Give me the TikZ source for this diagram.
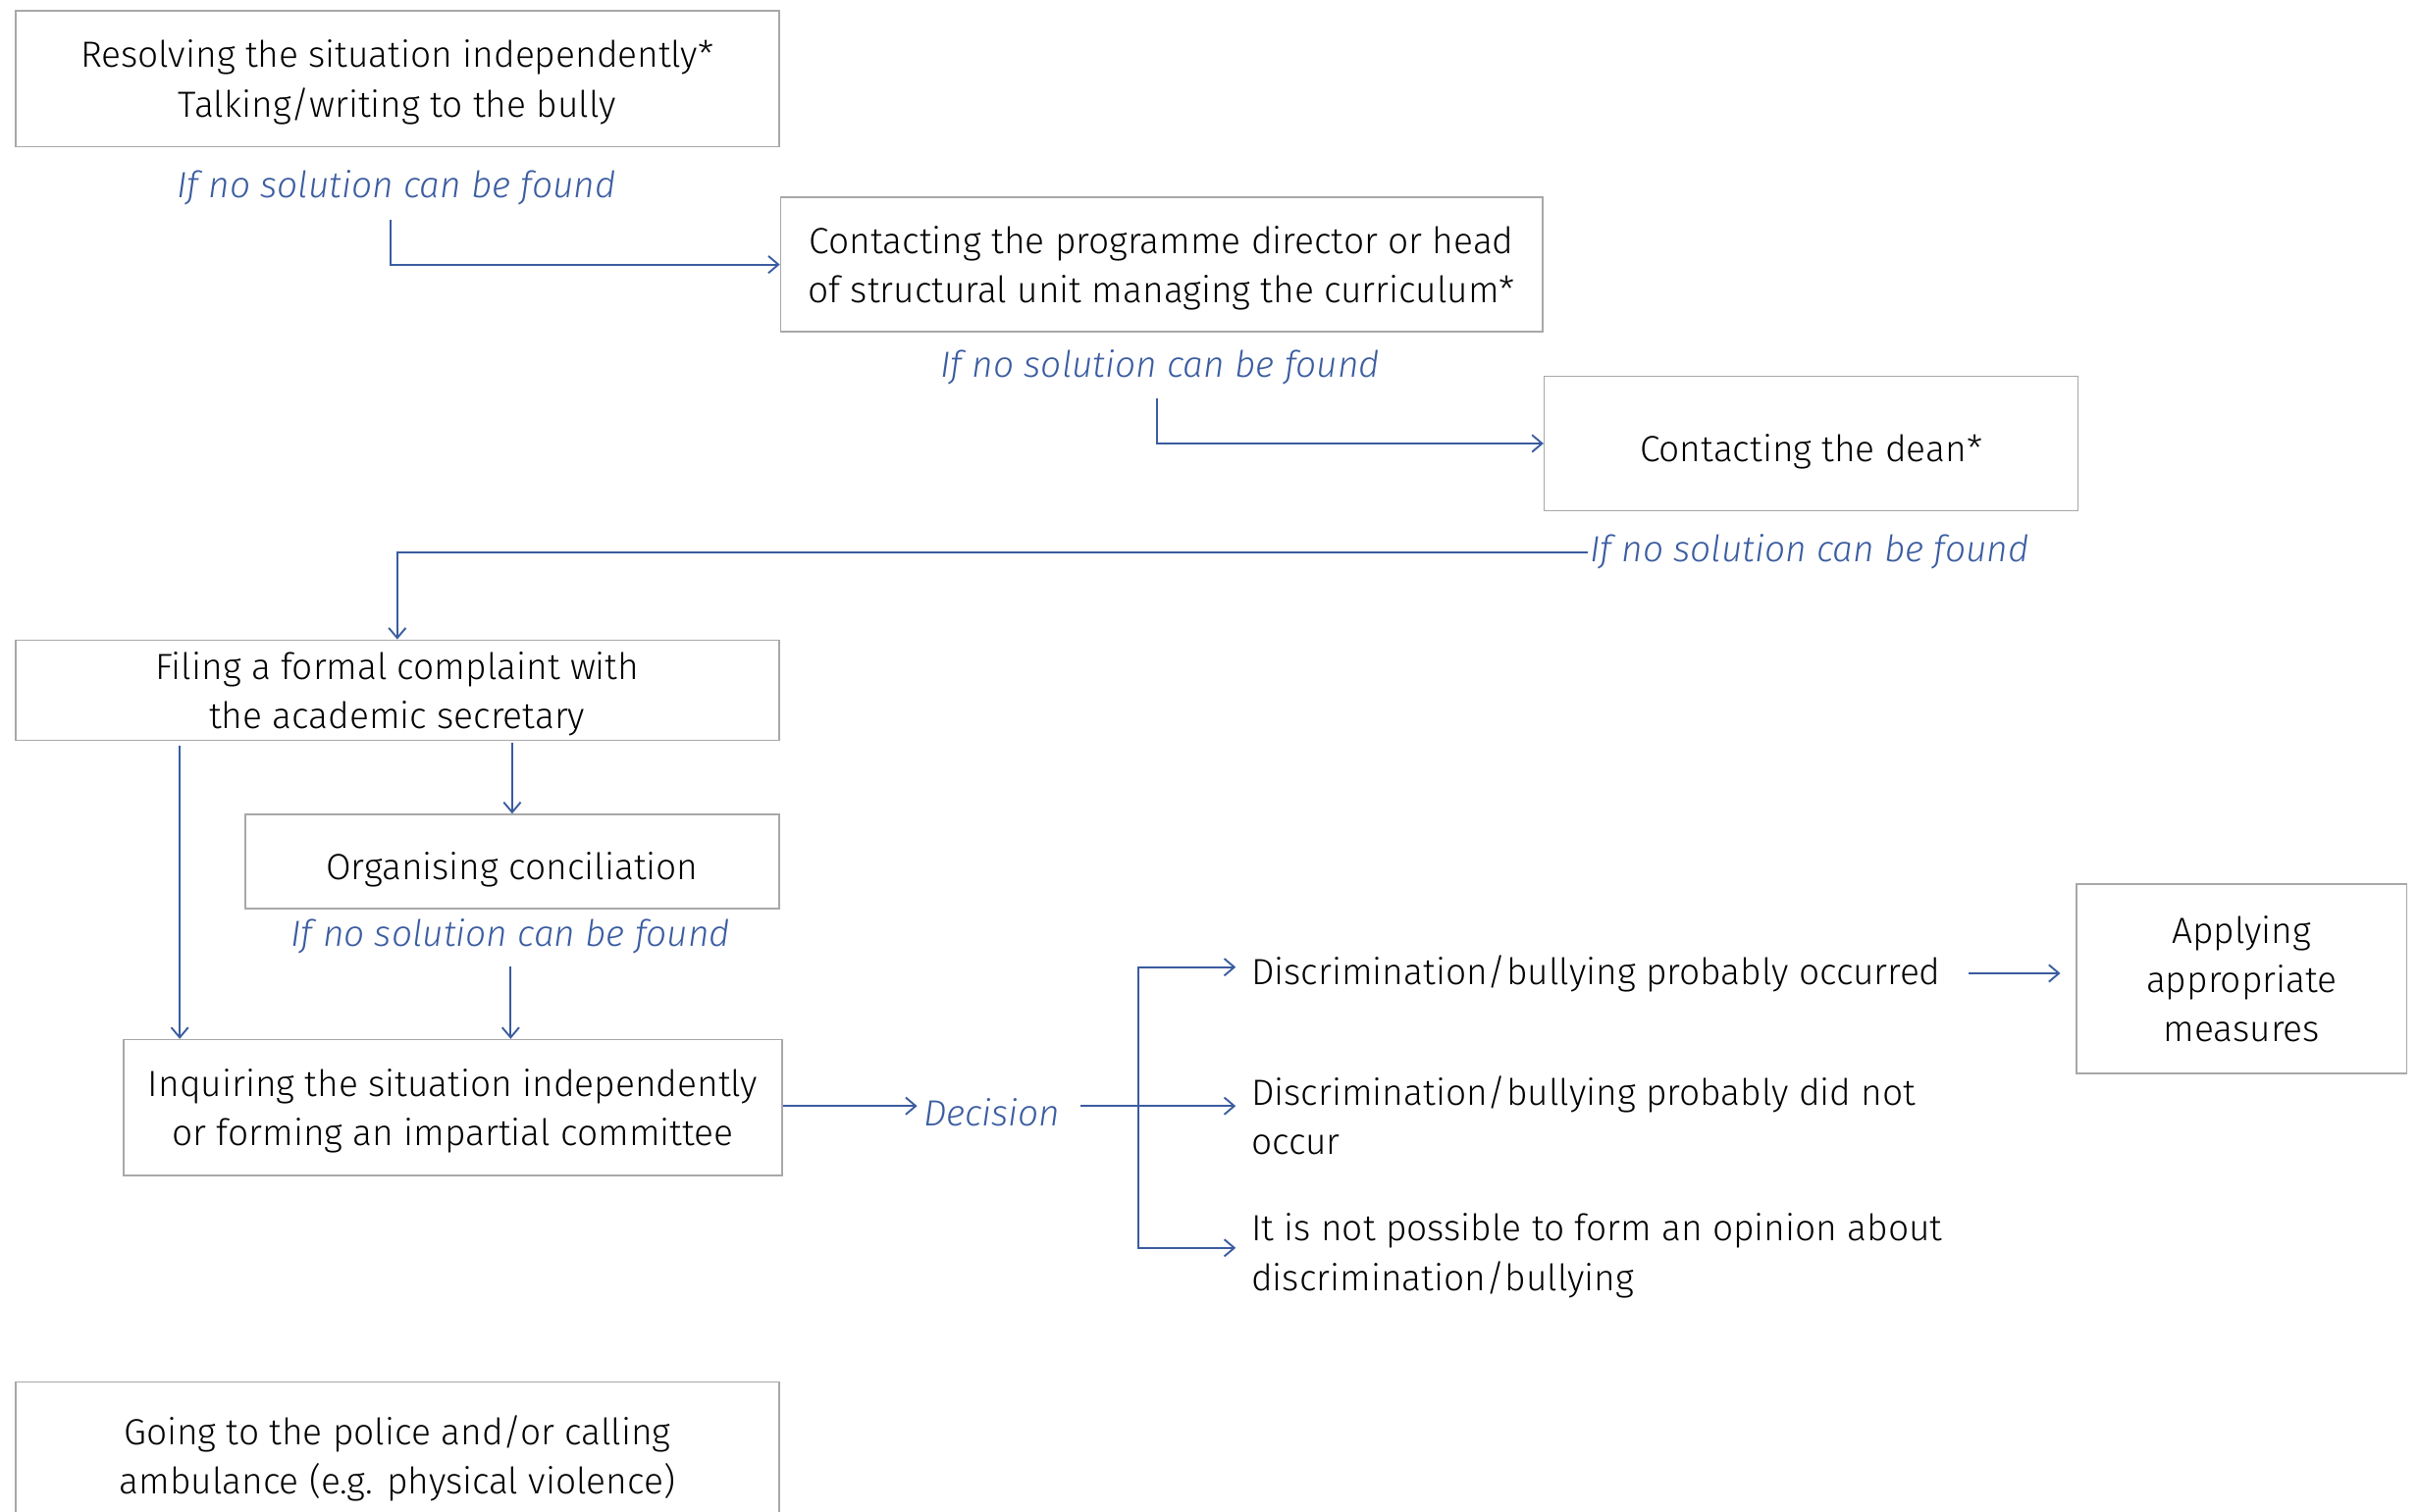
\documentclass[tikz,border=0pt]{standalone}
\usepackage{fontspec}
\setmainfont{Fira Sans}[UprightFont={* Light}, ItalicFont={* Light Italic}]
\usetikzlibrary{arrows.meta, positioning, calc}
\definecolor{cblue}{HTML}{3A5CA0}
\definecolor{cgrey}{HTML}{A8A8A8}
\tikzset{
  box/.style={draw=cgrey, line width=1pt, align=center, inner sep=0pt, text depth=-4pt},
  oneline/.style={text height=24pt, text depth=0pt},
  arrow/.style={-{Straight Barb[length=6.5pt, width=11pt]}, draw=cblue, line width=1.2pt},
  link/.style={draw=cblue, line width=1.2pt},
  note/.style={text=cblue, font=\fontsize{23.6}{32}\selectfont\itshape, inner sep=0pt},
  outcome/.style={align=left, anchor=west, inner sep=0pt},
}

\begin{document}
\begin{tikzpicture}[x=1pt, y=-1pt, every node/.append style={font=\fontsize{23.6}{32}\selectfont}]
  \useasboundingbox (0,0) rectangle (1568,980);
  \clip (0,0) rectangle (1568,980);
  % informal steps
  \node[box, minimum width=495, minimum height=88] (b1) at (257.5,51) {Resolving the situation independently*\\Talking/writing to the bully};
  \node[note] (l1) at (257,122) {If no solution can be found};
  \node[box, minimum width=494, minimum height=87] (b2) at (753,171.5) {Contacting the programme director or head\\of structural unit managing the curriculum*};
  \node[note] (l2) at (752,238) {If no solution can be found};
  \node[box, oneline, minimum width=346, minimum height=87] (b3) at (1174,287.5) {Contacting the dean*};
  \node[note] (l3) at (1173,358) {If no solution can be found};
  \draw[arrow] ([xshift=-4pt, yshift=-9pt]l1.south) |- (b2.west);
  \draw[arrow] ([xshift=-2pt, yshift=-9pt]l2.south) |- (b3.west);
  % formal complaint
  \node[box, minimum width=495, minimum height=65] (b4) at (257.5,447.5) {Filing a formal complaint with\\the academic secretary};
  \node[box, oneline, minimum width=346, minimum height=61] (b5) at (332,558.5) {Organising conciliation};
  \node[note] (l5) at (331,607) {If no solution can be found};
  \node[box, minimum width=427, minimum height=88] (b6) at (293.5,718) {Inquiring the situation independently\\or forming an impartial committee};
  \draw[arrow] ([xshift=-1pt]l3.west) -| (b4.north);
  \draw[arrow] ([yshift=-1pt]b5.north |- b4.south) -- (b5.north);
  \draw[arrow] ([xshift=107pt, yshift=-3pt]b4.south west) -- ([xshift=107pt]b4.south west |- b6.north);
  \draw[arrow] ([yshift=-8pt]l5.south) -- (l5.south |- b6.north);
  % decision
  \node[note, inner sep=4pt] (dec) at (643,721) {Decision};
  \coordinate (fork) at (738,717);
  \node[outcome] (o1) at (811,631) {Discrimination/bullying probably occurred};
  \node[outcome] (o2) at (811,723) {Discrimination/bullying probably did not\\occur};
  \node[outcome] (o3) at (811,814) {It is not possible to form an opinion about\\discrimination/bullying};
  \node[box, minimum width=214, minimum height=123] (b7) at (1453,634.5) {Applying\\appropriate\\measures};
  \draw[arrow] (b6.east |- fork) -- (dec.west |- fork);
  \draw[link] ([xshift=9pt]dec.east |- fork) -- (fork);
  \draw[arrow, shorten >=10pt] (fork) |- ([yshift=4pt]o1.west);
  \draw[arrow, shorten >=10pt] (fork) -- (fork -| o2.west);
  \draw[arrow, shorten >=10pt] (fork) |- ([yshift=5pt]o3.west);
  \draw[arrow, shorten <=18pt, shorten >=10pt] (o1.east) -- (o1.east -| b7.west);
  % emergency
  \node[box, minimum width=495, minimum height=94] (b8) at (257.5,943) {Going to the police and/or calling\\ambulance (e.g. physical violence)};
\end{tikzpicture}
\end{document}
